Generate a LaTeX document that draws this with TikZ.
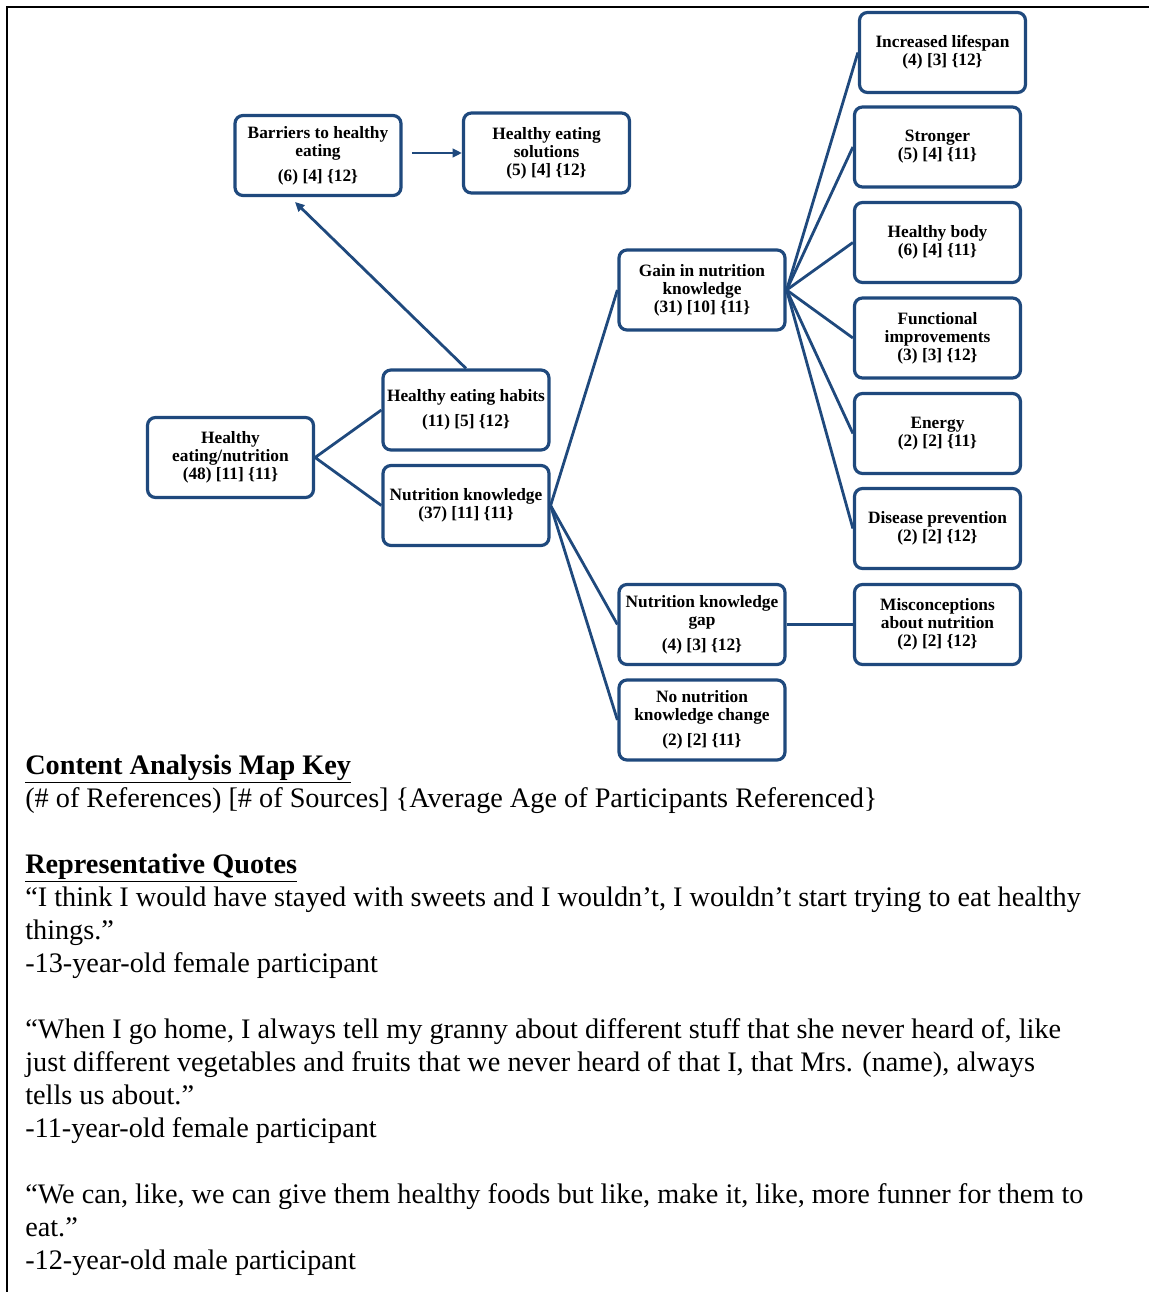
\documentclass[tikz,border=0pt]{standalone}
\usepackage{fontspec}
\setmainfont{Liberation Serif}
\usepackage{xcolor}
\usetikzlibrary{arrows.meta}
\definecolor{mapblue}{RGB}{31, 73, 125}

\tikzset{
  codebox/.style={draw=mapblue, line width=2.4pt, rounded corners=6pt, fill=white,
    minimum width=124.5pt, minimum height=60pt, inner sep=1pt, align=center,
    font=\fontsize{13}{13.5}\selectfont\bfseries},
  link/.style={mapblue, line width=2.1pt},
  linkarrow/.style={link, -{Triangle[length=7pt, width=6.5pt]}},
  keyline/.style={anchor=base west, inner sep=0pt, font=\fontsize{21.2}{24.7}\selectfont}
}

\begin{document}
\begin{tikzpicture}[x=0.75pt, y=-0.75pt]
  \useasboundingbox (0,0) rectangle (1149,1292);

  % Frame
  \draw[line width=1.2pt] (1149,7) -- (7,7) -- (7,1292);

  % Map boxes
  \node[codebox] (barriers) at (318,155.5) {Barriers to healthy\\eating\\[5pt](6) [4] \{12\}};
  \node[codebox] (solutions) at (546.5,153) {Healthy eating\\solutions\\(5) [4] \{12\}};
  \node[codebox] (root) at (230.5,457.5) {Healthy\\eating/nutrition\\(48) [11] \{11\}};
  \node[codebox] (habits) at (466,410) {Healthy eating habits\\[5pt](11) [5] \{12\}};
  \node[codebox] (knowledge) at (466,505.5) {Nutrition knowledge\\(37) [11] \{11\}};
  \node[codebox] (gain) at (702,290) {Gain in nutrition\\knowledge\\(31) [10] \{11\}};
  \node[codebox] (gap) at (702,624.5) {Nutrition knowledge\\gap\\[5pt](4) [3] \{12\}};
  \node[codebox] (nochange) at (702,720) {No nutrition\\knowledge change\\[5pt](2) [2] \{11\}};
  \node[codebox] (lifespan) at (942.5,52.5) {Increased lifespan\\(4) [3] \{12\}};
  \node[codebox] (stronger) at (937.5,147) {Stronger\\(5) [4] \{11\}};
  \node[codebox] (body) at (937.5,242.5) {Healthy body\\(6) [4] \{11\}};
  \node[codebox] (functional) at (937.5,338) {Functional\\improvements\\(3) [3] \{12\}};
  \node[codebox] (energy) at (937.5,433.5) {Energy\\(2) [2] \{11\}};
  \node[codebox] (disease) at (937.5,528.5) {Disease prevention\\(2) [2] \{12\}};
  \node[codebox] (misconceptions) at (937.5,624.5) {Misconceptions\\about nutrition\\(2) [2] \{12\}};

  % Connectors
  \draw[link] (habits.west) -- (root.east) -- (knowledge.west);
  \draw[link] (knowledge.east) -- (gain.west);
  \draw[link] (knowledge.east) -- (gap.west);
  \draw[link] (knowledge.east) -- (nochange.west);
  \foreach \leaf in {lifespan, stronger, body, functional, energy, disease}
    \draw[link] (gain.east) -- (\leaf.west);
  \draw[link] (gap.east) -- (misconceptions.west);

  % Arrows
  \coordinate (barriertip) at (295,202);
  \draw[linkarrow] (habits.north) -- (barriertip);
  \draw[linkarrow, shorten <=7pt] (barriers.east |- solutions.west) -- (solutions.west);

  % Key and quotes
  \node[keyline, font=\fontsize{21.2}{24.7}\selectfont\bfseries] (keytitle) at (25,774) {\underline{Content Analysis Map Key}};
  \node[keyline] (keytext) at (25,807) {(\# of References) [\# of Sources] \{Average Age of Participants Referenced\}};
  \node[keyline, font=\fontsize{21.2}{24.7}\selectfont\bfseries] (quotetitle) at (25,873) {\underline{Representative Quotes}};
  \node[keyline] (quoteAa) at (25,906) {“I think I would have stayed with sweets and I wouldn’t, I wouldn’t start trying to eat healthy};
  \node[keyline] (quoteAb) at (25,939) {things.”};
  \node[keyline] (quoteAc) at (25,972) {-13-year-old female participant};
  \node[keyline] (quoteBa) at (25,1038) {“When I go home, I always tell my granny about different stuff that she never heard of, like};
  \node[keyline] (quoteBb) at (25,1071) {just different vegetables and fruits that we never heard of that I, that Mrs. (name), always};
  \node[keyline] (quoteBc) at (25,1104) {tells us about.”};
  \node[keyline] (quoteBd) at (25,1137) {-11-year-old female participant};
  \node[keyline] (quoteCa) at (25,1203) {“We can, like, we can give them healthy foods but like, make it, like, more funner for them to};
  \node[keyline] (quoteCb) at (25,1236) {eat.”};
  \node[keyline] (quoteCc) at (25,1269) {-12-year-old male participant};
\end{tikzpicture}
\end{document}
